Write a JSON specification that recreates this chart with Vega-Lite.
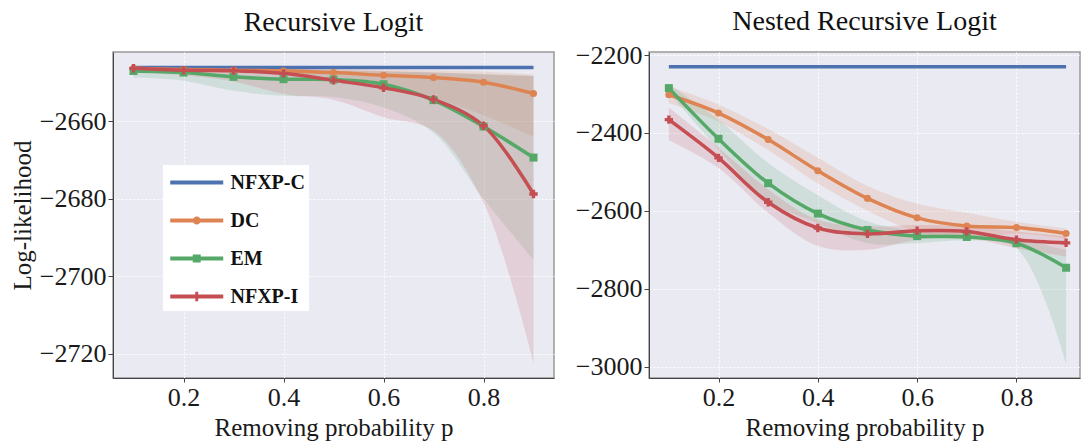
{
"$schema": "https://vega.github.io/schema/vega-lite/v6.json",
"padding": {"left": 9, "top": 7, "right": 0, "bottom": 0},
"background": "white",
"spacing": 95,
"bounds": "flush",
"data": {"values": [
{"panel":"RL","s":"NFXP-C","p":0.1,"y":-2646.2,"lo":-2646.2,"hi":-2646.2},
{"panel":"RL","s":"NFXP-C","p":0.2,"y":-2646.2,"lo":-2646.2,"hi":-2646.2},
{"panel":"RL","s":"NFXP-C","p":0.3,"y":-2646.2,"lo":-2646.2,"hi":-2646.2},
{"panel":"RL","s":"NFXP-C","p":0.4,"y":-2646.2,"lo":-2646.2,"hi":-2646.2},
{"panel":"RL","s":"NFXP-C","p":0.5,"y":-2646.2,"lo":-2646.2,"hi":-2646.2},
{"panel":"RL","s":"NFXP-C","p":0.6,"y":-2646.2,"lo":-2646.2,"hi":-2646.2},
{"panel":"RL","s":"NFXP-C","p":0.7,"y":-2646.2,"lo":-2646.2,"hi":-2646.2},
{"panel":"RL","s":"NFXP-C","p":0.8,"y":-2646.2,"lo":-2646.2,"hi":-2646.2},
{"panel":"RL","s":"NFXP-C","p":0.9,"y":-2646.2,"lo":-2646.2,"hi":-2646.2},
{"panel":"RL","s":"DC","p":0.1,"y":-2646.4,"lo":-2646.8,"hi":-2646.2},
{"panel":"RL","s":"DC","p":0.2,"y":-2646.7,"lo":-2647.2,"hi":-2646.3},
{"panel":"RL","s":"DC","p":0.3,"y":-2646.9,"lo":-2647.5,"hi":-2646.4},
{"panel":"RL","s":"DC","p":0.4,"y":-2647.1,"lo":-2647.9,"hi":-2646.5},
{"panel":"RL","s":"DC","p":0.5,"y":-2647.5,"lo":-2648.6,"hi":-2646.6},
{"panel":"RL","s":"DC","p":0.6,"y":-2648.2,"lo":-2650.2,"hi":-2646.7},
{"panel":"RL","s":"DC","p":0.7,"y":-2648.8,"lo":-2654.0,"hi":-2646.9},
{"panel":"RL","s":"DC","p":0.8,"y":-2650.0,"lo":-2658.5,"hi":-2647.2},
{"panel":"RL","s":"DC","p":0.9,"y":-2652.9,"lo":-2664.0,"hi":-2648.0},
{"panel":"RL","s":"EM","p":0.1,"y":-2647.1,"lo":-2648.8,"hi":-2646.4},
{"panel":"RL","s":"EM","p":0.2,"y":-2647.5,"lo":-2649.6,"hi":-2646.5},
{"panel":"RL","s":"EM","p":0.3,"y":-2648.6,"lo":-2652.2,"hi":-2646.6},
{"panel":"RL","s":"EM","p":0.4,"y":-2649.2,"lo":-2653.5,"hi":-2646.8},
{"panel":"RL","s":"EM","p":0.5,"y":-2649.3,"lo":-2653.8,"hi":-2647.0},
{"panel":"RL","s":"EM","p":0.6,"y":-2650.5,"lo":-2656.5,"hi":-2647.2},
{"panel":"RL","s":"EM","p":0.7,"y":-2654.6,"lo":-2663.0,"hi":-2647.5},
{"panel":"RL","s":"EM","p":0.8,"y":-2661.4,"lo":-2680.0,"hi":-2647.9},
{"panel":"RL","s":"EM","p":0.9,"y":-2669.4,"lo":-2695.8,"hi":-2648.4},
{"panel":"RL","s":"NFXP-I","p":0.1,"y":-2646.4,"lo":-2647.5,"hi":-2646.2},
{"panel":"RL","s":"NFXP-I","p":0.2,"y":-2646.9,"lo":-2648.2,"hi":-2646.3},
{"panel":"RL","s":"NFXP-I","p":0.3,"y":-2647.0,"lo":-2649.8,"hi":-2646.4},
{"panel":"RL","s":"NFXP-I","p":0.4,"y":-2647.7,"lo":-2653.0,"hi":-2646.5},
{"panel":"RL","s":"NFXP-I","p":0.5,"y":-2649.5,"lo":-2654.5,"hi":-2646.8},
{"panel":"RL","s":"NFXP-I","p":0.6,"y":-2651.4,"lo":-2659.0,"hi":-2647.1},
{"panel":"RL","s":"NFXP-I","p":0.7,"y":-2654.4,"lo":-2662.5,"hi":-2647.5},
{"panel":"RL","s":"NFXP-I","p":0.8,"y":-2661.2,"lo":-2681.0,"hi":-2648.0},
{"panel":"RL","s":"NFXP-I","p":0.9,"y":-2678.8,"lo":-2722.3,"hi":-2648.4},
{"panel":"NRL","s":"NFXP-C","p":0.1,"y":-2230,"lo":-2230,"hi":-2230},
{"panel":"NRL","s":"NFXP-C","p":0.2,"y":-2230,"lo":-2230,"hi":-2230},
{"panel":"NRL","s":"NFXP-C","p":0.3,"y":-2230,"lo":-2230,"hi":-2230},
{"panel":"NRL","s":"NFXP-C","p":0.4,"y":-2230,"lo":-2230,"hi":-2230},
{"panel":"NRL","s":"NFXP-C","p":0.5,"y":-2230,"lo":-2230,"hi":-2230},
{"panel":"NRL","s":"NFXP-C","p":0.6,"y":-2230,"lo":-2230,"hi":-2230},
{"panel":"NRL","s":"NFXP-C","p":0.7,"y":-2230,"lo":-2230,"hi":-2230},
{"panel":"NRL","s":"NFXP-C","p":0.8,"y":-2230,"lo":-2230,"hi":-2230},
{"panel":"NRL","s":"NFXP-C","p":0.9,"y":-2230,"lo":-2230,"hi":-2230},
{"panel":"NRL","s":"DC","p":0.1,"y":-2302,"lo":-2324,"hi":-2280},
{"panel":"NRL","s":"DC","p":0.2,"y":-2349,"lo":-2371,"hi":-2327},
{"panel":"NRL","s":"DC","p":0.3,"y":-2417,"lo":-2444,"hi":-2390},
{"panel":"NRL","s":"DC","p":0.4,"y":-2497,"lo":-2530,"hi":-2464},
{"panel":"NRL","s":"DC","p":0.5,"y":-2568,"lo":-2600,"hi":-2536},
{"panel":"NRL","s":"DC","p":0.6,"y":-2618,"lo":-2654,"hi":-2582},
{"panel":"NRL","s":"DC","p":0.7,"y":-2639,"lo":-2673,"hi":-2605},
{"panel":"NRL","s":"DC","p":0.8,"y":-2643,"lo":-2658,"hi":-2628},
{"panel":"NRL","s":"DC","p":0.9,"y":-2658,"lo":-2672,"hi":-2645},
{"panel":"NRL","s":"EM","p":0.1,"y":-2285,"lo":-2295,"hi":-2275},
{"panel":"NRL","s":"EM","p":0.2,"y":-2415,"lo":-2443,"hi":-2366},
{"panel":"NRL","s":"EM","p":0.3,"y":-2529,"lo":-2575,"hi":-2477},
{"panel":"NRL","s":"EM","p":0.4,"y":-2607,"lo":-2632,"hi":-2560},
{"panel":"NRL","s":"EM","p":0.5,"y":-2649,"lo":-2683,"hi":-2627},
{"panel":"NRL","s":"EM","p":0.6,"y":-2665,"lo":-2683,"hi":-2652},
{"panel":"NRL","s":"EM","p":0.7,"y":-2667,"lo":-2676,"hi":-2657},
{"panel":"NRL","s":"EM","p":0.8,"y":-2683,"lo":-2696,"hi":-2672},
{"panel":"NRL","s":"EM","p":0.9,"y":-2746,"lo":-2992,"hi":-2700},
{"panel":"NRL","s":"NFXP-I","p":0.1,"y":-2366,"lo":-2419,"hi":-2335},
{"panel":"NRL","s":"NFXP-I","p":0.2,"y":-2464,"lo":-2490,"hi":-2438},
{"panel":"NRL","s":"NFXP-I","p":0.3,"y":-2578,"lo":-2605,"hi":-2545},
{"panel":"NRL","s":"NFXP-I","p":0.4,"y":-2644,"lo":-2690,"hi":-2623},
{"panel":"NRL","s":"NFXP-I","p":0.5,"y":-2659,"lo":-2700,"hi":-2640},
{"panel":"NRL","s":"NFXP-I","p":0.6,"y":-2651,"lo":-2674,"hi":-2636},
{"panel":"NRL","s":"NFXP-I","p":0.7,"y":-2653,"lo":-2670,"hi":-2640},
{"panel":"NRL","s":"NFXP-I","p":0.8,"y":-2674,"lo":-2696,"hi":-2653},
{"panel":"NRL","s":"NFXP-I","p":0.9,"y":-2682,"lo":-2717,"hi":-2665}
]},
"hconcat": [
{
 "title": {"text": "Recursive Logit", "offset": 15},
 "width": 441, "height": 326,
 "transform": [{"filter": "datum.panel === 'RL'"}],
 "encoding": {"x": {"field": "p", "type": "quantitative", "scale": {"domain": [0.059, 0.941], "nice": false, "zero": false}, "axis": {"values": [0.2, 0.4, 0.6, 0.8], "format": ".1f", "title": "Removing probability p"}}},
 "layer": [
  {"mark": {"type": "point", "filled": true, "size": 0},
   "encoding": {
    "y": {"field": "y", "type": "quantitative", "title": "Log-likelihood", "scale": {"domain": [-2726.2, -2642.2], "nice": false, "zero": false}, "axis": {"values": [-2720, -2700, -2680, -2660], "format": "d"}},
    "color": {"field": "s", "type": "nominal", "scale": {"domain": ["NFXP-C", "DC", "EM", "NFXP-I"], "range": ["#4C72B0", "#DD8452", "#55A868", "#C44E52"]}, "legend": {"title": null, "orient": "none", "legendX": 50, "legendY": 113, "fillColor": "white", "padding": 4, "labelFont": "Liberation Serif", "labelFontSize": 20, "labelFontWeight": "bold", "labelColor": "#111", "symbolSize": 702, "symbolStrokeWidth": 0, "symbolOpacity": 1, "rowPadding": 14, "labelOffset": 36.5}},
    "shape": {"field": "s", "type": "nominal", "scale": {"domain": ["NFXP-C", "DC", "EM", "NFXP-I"], "range": [
      "M-0.774,-0.15H3.226V0.15H-0.774Z",
      "M-0.774,-0.15H3.226V0.15H-0.774Z M1.526,0A0.3,0.3 0 1,1 0.926,0A0.3,0.3 0 1,1 1.526,0Z",
      "M-0.774,-0.15H3.226V0.15H-0.774Z M0.926,-0.3H1.526V0.3H0.926Z",
      "M-0.774,-0.15H3.226V0.15H-0.774Z M1.116,-0.36H1.336V-0.11H1.586V0.11H1.336V0.36H1.116V0.11H0.866V-0.11H1.116Z"
    ]}, "legend": {"title": null, "orient": "none", "legendX": 50, "legendY": 113, "fillColor": "white", "padding": 4, "labelFont": "Liberation Serif", "labelFontSize": 20, "labelFontWeight": "bold", "labelColor": "#111", "symbolSize": 702, "symbolStrokeWidth": 0, "symbolOpacity": 1, "rowPadding": 14, "labelOffset": 36.5}}}},
  {"transform": [{"filter": "datum.s !== 'NFXP-C'"}],
   "mark": {"type": "area", "interpolate": "catmull-rom", "fillOpacity": 0.17, "strokeWidth": 0},
   "encoding": {
    "y": {"field": "lo", "type": "quantitative", "title": "Log-likelihood"},
    "y2": {"field": "hi"},
    "color": {"field": "s", "type": "nominal"}}},
  {"mark": {"type": "line", "interpolate": "catmull-rom", "strokeWidth": 3.5},
   "encoding": {
    "y": {"field": "y", "type": "quantitative", "title": "Log-likelihood"},
    "color": {"field": "s", "type": "nominal"}}},
  {"transform": [{"filter": "datum.s === 'DC'"}],
   "mark": {"type": "point", "shape": "circle", "filled": true, "size": 50, "opacity": 1, "color": "#DD8452"},
   "encoding": {"y": {"field": "y", "type": "quantitative", "title": "Log-likelihood"}}},
  {"transform": [{"filter": "datum.s === 'EM'"}],
   "mark": {"type": "point", "shape": "square", "filled": true, "size": 64, "opacity": 1, "color": "#55A868"},
   "encoding": {"y": {"field": "y", "type": "quantitative", "title": "Log-likelihood"}}},
  {"transform": [{"filter": "datum.s === 'NFXP-I'"}],
   "mark": {"type": "point", "shape": "cross", "filled": true, "size": 70, "opacity": 1, "color": "#C44E52"},
   "encoding": {"y": {"field": "y", "type": "quantitative", "title": "Log-likelihood"}}}
 ]
},
{
 "title": {"text": "Nested Recursive Logit", "offset": 6},
 "width": 431, "height": 326,
 "transform": [{"filter": "datum.panel === 'NRL'"}],
 "encoding": {"x": {"field": "p", "type": "quantitative", "scale": {"domain": [0.06, 0.928], "nice": false, "zero": false}, "axis": {"values": [0.2, 0.4, 0.6, 0.8], "format": ".1f", "title": "Removing probability p"}}},
 "layer": [
  {"transform": [{"filter": "datum.s !== 'NFXP-C'"}],
   "mark": {"type": "area", "interpolate": "catmull-rom", "fillOpacity": 0.17, "strokeWidth": 0},
   "encoding": {
    "y": {"field": "lo", "type": "quantitative", "title": null, "scale": {"domain": [-3029, -2192.3], "nice": false, "zero": false}, "axis": {"values": [-3000, -2800, -2600, -2400, -2200], "format": "d"}},
    "y2": {"field": "hi"},
    "color": {"field": "s", "type": "nominal"}}},
  {"mark": {"type": "line", "interpolate": "catmull-rom", "strokeWidth": 3.5},
   "encoding": {
    "y": {"field": "y", "type": "quantitative", "title": null},
    "color": {"field": "s", "type": "nominal"}}},
  {"transform": [{"filter": "datum.s === 'DC'"}],
   "mark": {"type": "point", "shape": "circle", "filled": true, "size": 50, "opacity": 1, "color": "#DD8452"},
   "encoding": {"y": {"field": "y", "type": "quantitative", "title": null}}},
  {"transform": [{"filter": "datum.s === 'EM'"}],
   "mark": {"type": "point", "shape": "square", "filled": true, "size": 64, "opacity": 1, "color": "#55A868"},
   "encoding": {"y": {"field": "y", "type": "quantitative", "title": null}}},
  {"transform": [{"filter": "datum.s === 'NFXP-I'"}],
   "mark": {"type": "point", "shape": "cross", "filled": true, "size": 70, "opacity": 1, "color": "#C44E52"},
   "encoding": {"y": {"field": "y", "type": "quantitative", "title": null}}}
 ]
}
],
"config": {
 "font": "Liberation Serif",
 "view": {"fill": "#EAEAF2", "stroke": "#999999", "strokeWidth": 1.5},
 "axis": {"labelFont": "Liberation Serif", "labelFontSize": 26, "labelColor": "#1a1a1a", "titleFont": "Liberation Serif", "titleFontSize": 25, "titleFontWeight": "normal", "titleColor": "#1a1a1a", "grid": true, "gridColor": "white", "gridDash": [2, 2], "gridWidth": 1, "domainColor": "#444444", "tickColor": "#444444", "tickSize": 5, "labelPadding": 2, "titlePadding": 4},
 "axisX": {"tickSize": 4, "labelPadding": 2, "titlePadding": 5},
 "title": {"font": "Liberation Serif", "fontSize": 28, "fontWeight": "normal", "color": "#111111", "frame": "group"}
}
}
